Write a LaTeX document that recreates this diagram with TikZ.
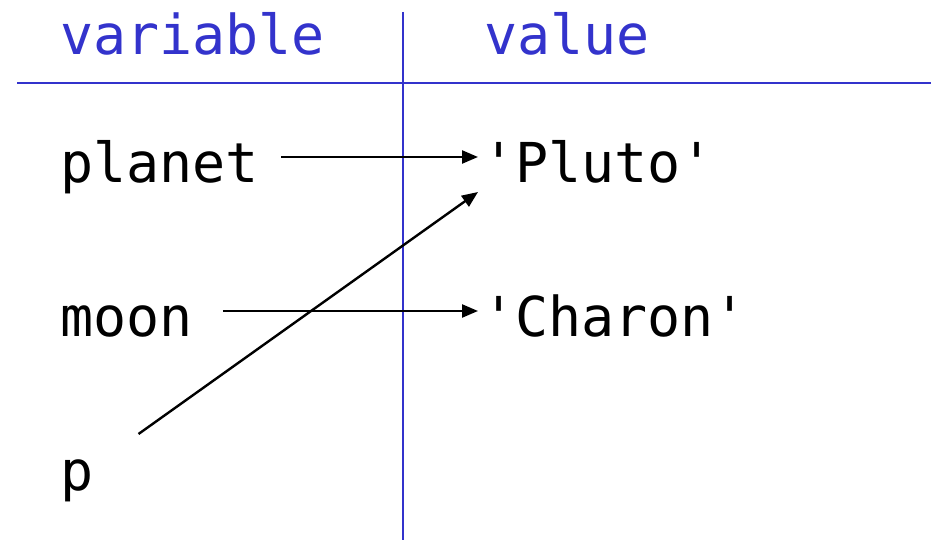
\documentclass[tikz,border=0pt]{standalone}
\usepackage{fontspec}
\setmonofont{DejaVu Sans Mono}
\usetikzlibrary{arrows.meta}
\definecolor{rule}{RGB}{51,51,204}
\begin{document}
\begin{tikzpicture}[x=1pt,y=1pt,
  word/.style={inner sep=0pt,anchor=base west,font=\fontsize{55}{62}\selectfont\ttfamily},
  head/.style={word,text=rule},
  rulers/.style={draw=rule,line width=2.4pt},
  link/.style={draw=black,line width=2.4pt,-{Triangle[length=16pt,width=13pt]}}]
\useasboundingbox (0,0) rectangle (931,540);
% table rules
\coordinate (hl) at (17,457);
\coordinate (hr) at (931,457);
\coordinate (vt) at (403,528);
\coordinate (vb) at (403,0);
\draw[rulers] (hl) -- (hr);
\draw[rulers] (vt) -- (vb);
% headings
\node[head] (hvar) at (60,485) {variable};
\node[head] (hval) at (484,485) {value};
% variables
\node[word] (planet) at (60,357) {planet};
\node[word] (moon) at (60,203) {moon};
\node[word] (p) at (60,49) {p};
% values
\node[word] (pluto) at (482,357) {'Pluto'};
\node[word] (charon) at (482,203) {'Charon'};
% references
\draw[link] ([xshift=22pt,yshift=26pt]planet.base east) -- ([xshift=-4pt,yshift=26pt]pluto.base west);
\draw[link] ([xshift=30pt,yshift=26pt]moon.base east) -- ([xshift=-4pt,yshift=26pt]charon.base west);
\draw[link] ([xshift=45pt,yshift=57pt]p.base east) -- ([xshift=-4pt,yshift=-9pt]pluto.base west);
\end{tikzpicture}
\end{document}
